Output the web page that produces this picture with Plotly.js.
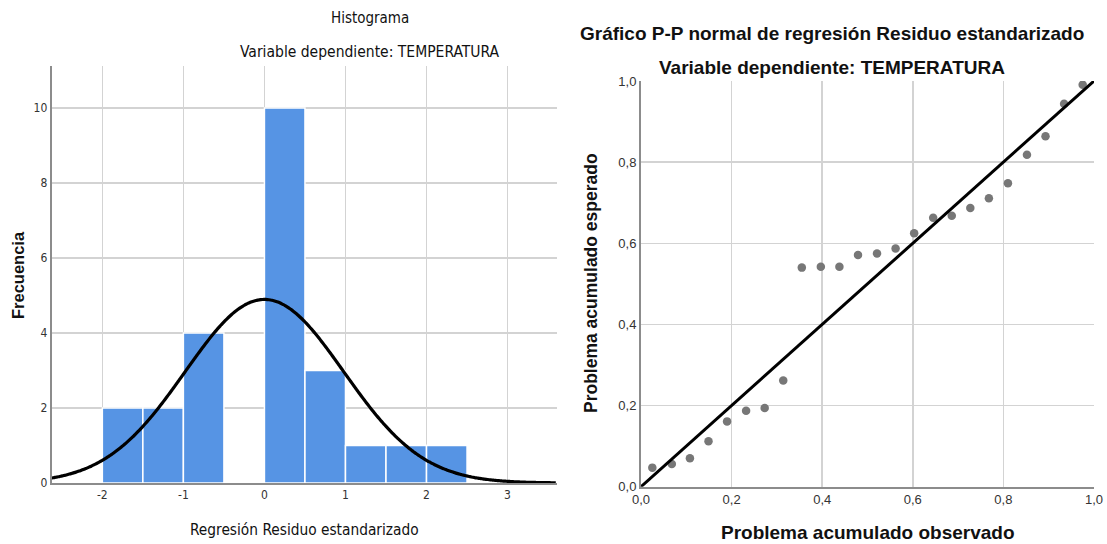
<!DOCTYPE html>
<html>
<head>
<meta charset="utf-8">
<script src="https://cdn.plot.ly/plotly-3.0.1.min.js"></script>
<style>html,body{margin:0;padding:0;background:#fff;}#chart{width:1107px;height:544px;}</style>
</head>
<body>
<div id="chart"></div>
<script>
// Histogram of standardized residuals
const binCenters = [-1.75, -1.25, -0.75, -0.25, 0.25, 0.75, 1.25, 1.75, 2.25];
const binCounts  = [2, 2, 4, 0, 10, 3, 1, 1, 1];
const binWidth = 0.5;
const residMean = 0.0;
const residSD = 0.978;
const residN = 24;
const histXTicks = [-2, -1, 0, 1, 2, 3];
const histYTicks = [0, 2, 4, 6, 8, 10];

// Normal P-P plot
const ppObserved = [0.025, 0.068, 0.108, 0.149, 0.190, 0.232, 0.273, 0.314,
                    0.355, 0.397, 0.438, 0.479, 0.521, 0.562, 0.603, 0.645,
                    0.686, 0.727, 0.768, 0.810, 0.852, 0.893, 0.934, 0.975];
const ppExpected = [0.047, 0.056, 0.070, 0.112, 0.161, 0.187, 0.194, 0.262,
                    0.540, 0.542, 0.542, 0.571, 0.575, 0.587, 0.625, 0.663,
                    0.668, 0.687, 0.711, 0.748, 0.818, 0.864, 0.944, 0.991];
const ppTicks = [0, 0.2, 0.4, 0.6, 0.8, 1.0];

// fitted normal curve scaled to counts
const histRange = [-2.625, 3.61];
const curveX = [], curveY = [];
for (let x = histRange[0]; x <= histRange[1] + 1e-9; x += 0.02) {
  curveX.push(x);
  const z = (x - residMean) / residSD;
  curveY.push(residN * binWidth * Math.exp(-0.5 * z * z) / (residSD * Math.sqrt(2 * Math.PI)));
}

const narrow = "'Liberation Sans Narrow', 'Arial Narrow', 'DejaVu Sans Condensed', sans-serif";
const sans = "'Liberation Sans', Arial, sans-serif";
const W = 1107, H = 544;
const px = v => v / W, py = v => 1 - v / H;

const traces = [
  {type: 'bar', x: binCenters, y: binCounts, width: binWidth, xaxis: 'x', yaxis: 'y',
   marker: {color: '#5694e4', line: {color: '#ffffff', width: 1.5}}, hoverinfo: 'x+y'},
  {type: 'scatter', mode: 'lines', x: curveX, y: curveY, xaxis: 'x', yaxis: 'y',
   line: {color: '#000000', width: 3.2, shape: 'spline'}, hoverinfo: 'skip'},
  {type: 'scatter', mode: 'markers', x: ppObserved, y: ppExpected, xaxis: 'x2', yaxis: 'y2',
   marker: {color: '#777777', size: 8.5}},
  {type: 'scatter', mode: 'lines', x: [0, 1], y: [0, 1], xaxis: 'x2', yaxis: 'y2',
   line: {color: '#000000', width: 3}, hoverinfo: 'skip'}
];

const gridC = '#d3d3d3', axisC = '#8c8c8c';
const layout = {
  width: W, height: H,
  margin: {l: 0, r: 0, t: 0, b: 0},
  paper_bgcolor: '#ffffff', plot_bgcolor: '#ffffff',
  showlegend: false,
  separators: ',.',
  bargap: 0,
  xaxis: {domain: [px(51.7), px(557)], range: histRange, tickvals: histXTicks,
          ticktext: histXTicks.map(String), showgrid: true, gridcolor: gridC, gridwidth: 1.5,
          showline: true, linecolor: axisC, linewidth: 2, zeroline: false, ticks: '',
          tickfont: {family: narrow, size: 12, color: '#333'}, fixedrange: true},
  yaxis: {domain: [py(483), py(66)], range: [0, 11.12], tickvals: histYTicks,
          showgrid: true, gridcolor: gridC, gridwidth: 1.5,
          showline: true, linecolor: axisC, linewidth: 2, zeroline: false, ticks: '',
          tickfont: {family: narrow, size: 12, color: '#333'}, fixedrange: true},
  xaxis2: {domain: [px(641), px(1094)], range: [0, 1], tickvals: ppTicks, tickformat: '.1f',
           anchor: 'y2', showgrid: true, gridcolor: gridC, gridwidth: 1.5,
           showline: true, linecolor: axisC, linewidth: 2, zeroline: false, ticks: '',
           tickfont: {family: sans, size: 13, color: '#333'}, fixedrange: true},
  yaxis2: {domain: [py(486.7), py(81)], range: [0, 1], tickvals: ppTicks, tickformat: '.1f',
           anchor: 'x2', showgrid: true, gridcolor: gridC, gridwidth: 1.5,
           showline: true, linecolor: axisC, linewidth: 2, zeroline: false, ticks: '',
           tickfont: {family: sans, size: 13, color: '#333'}, fixedrange: true},
  annotations: [
    {text: 'Histograma', x: px(370), y: py(18), xref: 'paper', yref: 'paper',
     showarrow: false, xanchor: 'center', yanchor: 'middle',
     font: {family: narrow, size: 15, color: '#111'}},
    {text: 'Variable dependiente: TEMPERATURA', x: px(370), y: py(52), xref: 'paper', yref: 'paper',
     showarrow: false, xanchor: 'center', yanchor: 'middle',
     font: {family: narrow, size: 15.5, color: '#111'}},
    {text: '<b>Frecuencia</b>', x: px(18), y: py(275), xref: 'paper', yref: 'paper',
     showarrow: false, xanchor: 'center', yanchor: 'middle', textangle: -90,
     font: {family: sans, size: 16.5, color: '#111'}},
    {text: 'Regresión Residuo estandarizado', x: px(304), y: py(530), xref: 'paper', yref: 'paper',
     showarrow: false, xanchor: 'center', yanchor: 'middle',
     font: {family: narrow, size: 15.3, color: '#111'}},
    {text: '<b>Gráfico P-P normal de regresión Residuo estandarizado</b>', x: px(832), y: py(33),
     xref: 'paper', yref: 'paper', showarrow: false, xanchor: 'center', yanchor: 'middle',
     font: {family: sans, size: 19, color: '#111'}},
    {text: '<b>Variable dependiente: TEMPERATURA</b>', x: px(832), y: py(67),
     xref: 'paper', yref: 'paper', showarrow: false, xanchor: 'center', yanchor: 'middle',
     font: {family: sans, size: 19, color: '#111'}},
    {text: '<b>Problema acumulado esperado</b>', x: px(591), y: py(283), xref: 'paper', yref: 'paper',
     showarrow: false, xanchor: 'center', yanchor: 'middle', textangle: -90,
     font: {family: sans, size: 17.5, color: '#111'}},
    {text: '<b>Problema acumulado observado</b>', x: px(868), y: py(532), xref: 'paper', yref: 'paper',
     showarrow: false, xanchor: 'center', yanchor: 'middle',
     font: {family: sans, size: 19, color: '#111'}}
  ]
};

Plotly.newPlot('chart', traces, layout, {displayModeBar: false, staticPlot: true});
</script>
</body>
</html>
